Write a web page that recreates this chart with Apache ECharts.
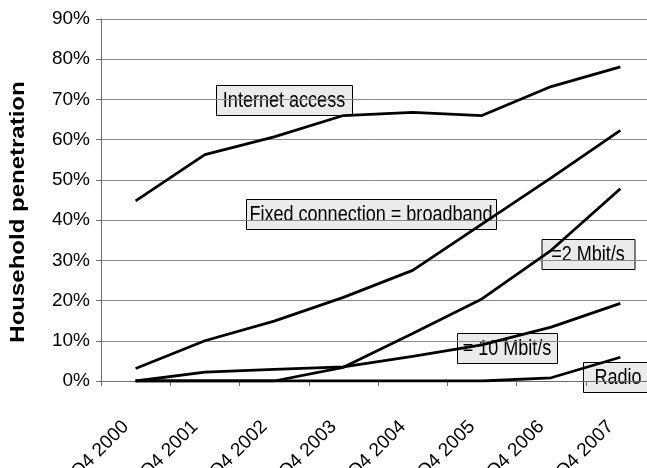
<!DOCTYPE html>
<html>
<head>
<meta charset="utf-8">
<script src="https://cdn.jsdelivr.net/npm/echarts@6/dist/echarts.min.js"></script>
<style>
  html, body { margin: 0; padding: 0; background: #ffffff; }
  #chart { width: 647px; height: 468px; }
</style>
</head>
<body>
<div id="chart"></div>
<script>
// Quarterly household penetration (%)
var categories = ['Q4 2000', 'Q4 2001', 'Q4 2002', 'Q4 2003', 'Q4 2004', 'Q4 2005', 'Q4 2006', 'Q4 2007'];
var internetAccess = [44.8, 56.3, 60.7, 66.0, 66.8, 66.0, 73.2, 78.1];
var broadband      = [3.1, 10.0, 14.9, 20.8, 27.5, 39.0, 50.5, 62.3];
var mbit2          = [0, 0, 0, 3.4, 11.8, 20.4, 32.5, 47.8];
var mbit10         = [0, 2.2, 2.9, 3.5, 6.1, 9.0, 13.4, 19.3];
var radio          = [0, 0, 0, 0, 0, 0, 0.8, 5.9];

var seriesNames = ['Internet access', 'Fixed connection = broadband', '=2 Mbit/s', '= 10 Mbit/s', 'Radio'];
var seriesData = [internetAccess, broadband, mbit2, mbit10, radio];

var yTicks = { min: 0, max: 90, step: 10 };

var FONT = '"Liberation Sans", Arial, sans-serif';

var chart = echarts.init(document.getElementById('chart'), null, { renderer: 'canvas' });

// Boxed annotation: light grey box with black border, text squeezed horizontally
function boxLabel(text, cx, cy, w, h) {
  return {
    type: 'group',
    x: cx,
    y: cy,
    z: 100,
    children: [
      {
        type: 'rect',
        shape: { x: -w / 2 + 0.5, y: -h / 2 + 0.5, width: w, height: h },
        style: { fill: '#ebebeb', stroke: '#000000', lineWidth: 1 }
      },
      {
        type: 'text',
        x: 0,
        y: 1,
        scaleX: 0.82,
        style: {
          text: text,
          font: '22px ' + FONT,
          fill: '#000000',
          align: 'center',
          verticalAlign: 'middle'
        }
      }
    ]
  };
}

var option = {
  animation: false,
  backgroundColor: '#ffffff',
  grid: {
    left: 101, right: -8, top: 19, bottom: 87,
    containLabel: false,
    outerBoundsMode: 'none'
  },
  xAxis: {
    type: 'category',
    data: categories,
    boundaryGap: true,
    axisLine: { show: true, lineStyle: { color: '#6e6e6e', width: 1 } },
    axisTick: { show: true, length: 5, inside: false, lineStyle: { color: '#6e6e6e' } },
    axisLabel: {
      rotate: 45,
      margin: 33,
      padding: [0, 14, 0, 0],
      color: '#000000',
      fontFamily: FONT,
      fontSize: 19
    },
    splitLine: { show: false }
  },
  yAxis: {
    type: 'value',
    min: yTicks.min,
    max: yTicks.max,
    interval: yTicks.step,
    axisLine: { show: true, lineStyle: { color: '#6e6e6e', width: 1 } },
    axisTick: { show: true, length: 5, lineStyle: { color: '#6e6e6e' } },
    axisLabel: {
      formatter: '{value}%',
      color: '#000000',
      fontFamily: FONT,
      fontSize: 19,
      margin: 11
    },
    splitLine: { show: true, lineStyle: { color: '#8a8a8a', width: 1 } }
  },
  series: seriesData.map(function (d, i) {
    return {
      name: seriesNames[i],
      type: 'line',
      data: d,
      symbol: 'none',
      smooth: false,
      lineStyle: { color: '#000000', width: 2.8 },
      z: 10 + i
    };
  }),
  graphic: [
    {
      type: 'text',
      x: 18,
      y: 212,
      rotation: Math.PI / 2,
      scaleX: 1.2,
      style: {
        text: 'Household penetration',
        font: 'bold 20px ' + FONT,
        fill: '#000000',
        align: 'center',
        verticalAlign: 'middle'
      }
    },
    boxLabel('Internet access', 284, 100, 136, 30),
    boxLabel('Fixed connection = broadband', 371, 214, 250, 30),
    boxLabel('=2 Mbit/s', 588, 254, 93, 30),
    boxLabel('= 10 Mbit/s', 507, 348, 100, 30),
    boxLabel('Radio', 618, 377, 70, 30)
  ]
};

chart.setOption(option);
</script>
</body>
</html>
